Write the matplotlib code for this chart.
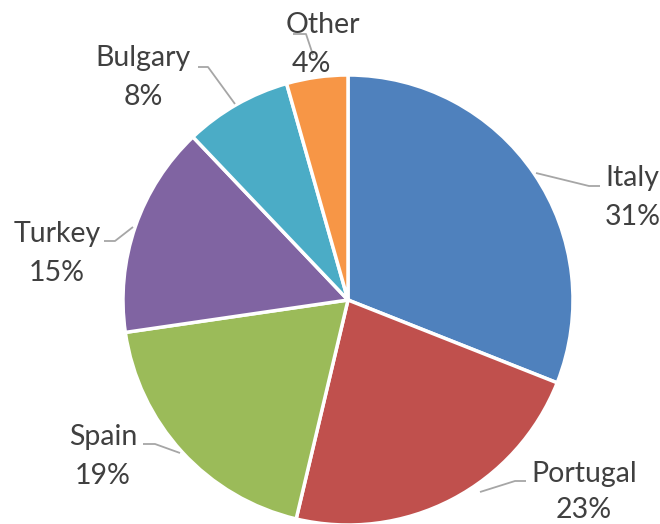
import matplotlib
matplotlib.use("Agg")
import matplotlib.pyplot as plt

labels = ["Italy", "Portugal", "Spain", "Turkey", "Bulgary", "Other"]
shares = [31.0, 22.7, 19.0, 15.2, 7.7, 4.4]
pct_labels = ["31%", "23%", "19%", "15%", "8%", "4%"]
colors = ["#4F81BD", "#C0504D", "#9BBB59", "#8064A2", "#4BACC6", "#F79646"]

W, H = 660, 524

# label anchors (centre x, baseline y of first line) and leader lines, in pixel coords
label_pos = [(632, 186), (584, 482), (103, 445), (57, 242), (143, 66), (323, 33)]
second_x = [633, 584, 103, 57, 143, 311]
leaders = [
    [(536, 173), (589, 186), (600, 186)],
    [(480, 492), (515, 481), (526, 481)],
    [(143, 444), (155, 444), (180, 453)],
    [(104, 241), (115, 241), (133, 227)],
    [(198, 67), (208, 67), (235, 104)],
    [(293, 34), (306, 34), (313, 55)],
]

fig = plt.figure(figsize=(W / 100, H / 100), dpi=100, facecolor="white")
ax = fig.add_axes([0, 0, 1, 1])

ax.pie(shares, colors=colors, startangle=90, counterclock=False,
       center=(348, H - 300), radius=225,
       wedgeprops=dict(edgecolor="white", linewidth=2.5))
ax.set_xlim(0, W)
ax.set_ylim(0, H)
ax.set_aspect("equal")
ax.axis("off")

for pts in leaders:
    xs = [p[0] for p in pts]
    ys = [H - p[1] for p in pts]
    ax.plot(xs, ys, color="#A6A6A6", lw=1.3, solid_capstyle="butt")

for lab, pl, (x, y), x2 in zip(labels, pct_labels, label_pos, second_x):
    ax.text(x, H - y, lab, ha="center", va="baseline", fontsize=20.5,
            family="Lato", color="#404040")
    ax.text(x2, H - min(y + 39, 518), pl, ha="center", va="baseline",
            fontsize=20.5, family="Lato", color="#404040")

fig.savefig("out.png", dpi=100, facecolor="white")
